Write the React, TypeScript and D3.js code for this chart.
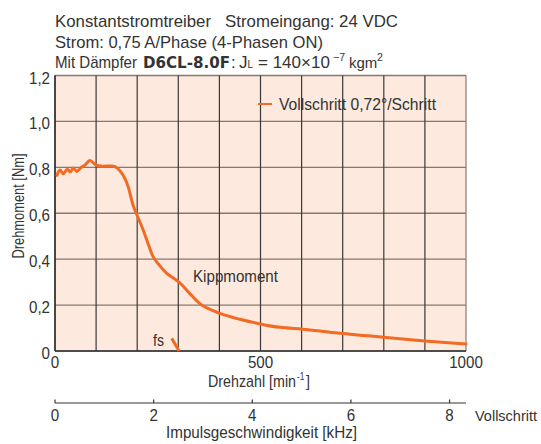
import React from "react";
import * as d3 from "d3";

const rpm = [5, 12, 20, 30, 37, 45, 53, 62, 73, 85, 100, 117, 134, 146, 158, 170, 178, 190, 200, 215, 227, 239, 251, 272, 302, 328, 357, 401, 450, 499, 547, 602, 645, 693, 750, 800, 900, 1000];
const torque = [0.765, 0.788, 0.772, 0.792, 0.78, 0.797, 0.782, 0.797, 0.81, 0.83, 0.81, 0.805, 0.806, 0.803, 0.785, 0.752, 0.716, 0.635, 0.59, 0.525, 0.465, 0.41, 0.38, 0.338, 0.3, 0.25, 0.2, 0.164, 0.138, 0.118, 0.103, 0.095, 0.087, 0.077, 0.068, 0.06, 0.044, 0.03];
const fsRpm = [284, 302];
const fsTorque = [0.055, 0];

const yTicks = [0, 0.2, 0.4, 0.6, 0.8, 1.0, 1.2];
const yTickLabels = ["0", "0,2", "0,4", "0,6", "0,8", "1,0", "1,2"];
const xGrid = [0, 100, 200, 300, 400, 500, 600, 700, 800, 900, 1000];
const xTickLabels = [0, 500, 1000];
const kHzTicks = [0, 2, 4, 6, 8];

const headerLine1 = "Konstantstromtreiber   Stromeingang: 24 VDC";
const headerLine2 = "Strom: 0,75 A/Phase (4-Phasen ON)";
const legendLabel = "Vollschritt 0,72°/Schritt";

const FONT = "'Liberation Sans', Arial, sans-serif";
const ORANGE = "#f26a24";
const TEXT = "#333";
const FS = 17;
const SX = 0.89;

type TProps = {
  x: number;
  y: number;
  w?: number;
  anchor?: "start" | "middle" | "end";
  size?: number;
  children: React.ReactNode;
  bold?: boolean;
  family?: string;
};

function T({ x, y, w, anchor = "start", size = FS, children, bold, family }: TProps) {
  if (w !== undefined) {
    return (
      <text
        x={x}
        y={y}
        textAnchor={anchor}
        fontSize={size}
        fill={TEXT}
        fontWeight={bold ? "bold" : undefined}
        fontFamily={family}
        textLength={w}
        lengthAdjust="spacingAndGlyphs"
        style={{ whiteSpace: "pre" }}
      >
        {children}
      </text>
    );
  }
  return (
    <text
      transform={`translate(${x},${y}) scale(${SX},1)`}
      textAnchor={anchor}
      fontSize={size}
      fill={TEXT}
      fontWeight={bold ? "bold" : undefined}
      fontFamily={family}
      style={{ whiteSpace: "pre" }}
    >
      {children}
    </text>
  );
}

export default function App() {
  const x = d3.scaleLinear().domain([0, 1000]).range([55, 466]);
  const y = d3.scaleLinear().domain([0, 1.2]).range([351, 75.5]);
  const xk = d3.scaleLinear().domain([0, 25 / 3]).range([55, 466]);

  const pts: [number, number][] = rpm.map((r, i) => [r, torque[i]]);
  const line = d3
    .line<[number, number]>()
    .x((d) => x(d[0]))
    .y((d) => y(d[1]))
    .curve(d3.curveCatmullRom.alpha(0.5));
  const fsPts: [number, number][] = fsRpm.map((r, i) => [r, fsTorque[i]]);
  const fsLine = d3
    .line<[number, number]>()
    .x((d) => x(d[0]))
    .y((d) => y(d[1]));

  const axisY = 403;
  const dz = 0.84;
  const d2 = (px: number) => (px - 208) / dz;

  return (
    <svg width={541} height={444} style={{ position: "absolute", left: 0, top: 0 }} fontFamily={FONT}>
      <T x={55} y={27} w={343}>{headerLine1}</T>
      <T x={55} y={48} w={268}>{headerLine2}</T>
      <T x={55} y={68} w={82}>Mit Dämpfer</T>
      <T x={143} y={68} w={87} bold family="'DejaVu Sans', sans-serif" size={15.5}>D6CL-8.0F</T>
      <text x={231} y={68} fontSize={FS} fill={TEXT} style={{ whiteSpace: "pre" }}>
        <tspan x={231}>:</tspan>
        <tspan x={239}>J</tspan>
        <tspan x={247.5} fontSize={10}>L</tspan>
        <tspan x={258}>= 140×10</tspan>
        <tspan x={333} dy={-7} fontSize={10.5}>−7</tspan>
        <tspan x={349} dy={7} fontSize={15}>kgm</tspan>
        <tspan x={377} dy={-7} fontSize={10.5}>2</tspan>
      </text>

      <rect x={x(0)} y={y(1.2)} width={x(1000) - x(0)} height={y(0) - y(1.2)} fill="#fde9dd" />
      {yTicks.map((t) => (
        <line key={"h" + t} x1={x(0)} x2={x(1000)} y1={y(t)} y2={y(t)} stroke="#857a72" strokeWidth={1.3} />
      ))}
      {xGrid.map((t) => (
        <line key={"v" + t} x1={x(t)} x2={x(t)} y1={y(1.2)} y2={y(0)} stroke={t === 1000 ? "#857a72" : "#3a3a3a"} strokeWidth={1.2} />
      ))}
      <line x1={x(0)} x2={x(0)} y1={y(1.2)} y2={y(0)} stroke="#333" strokeWidth={1.5} />
      <line x1={x(0)} x2={x(1000)} y1={y(0)} y2={y(0)} stroke="#333" strokeWidth={1.5} />

      {yTicks.map((t, i) => (
        <T key={"yl" + t} x={50} y={y(t) + 8} anchor="end">{yTickLabels[i]}</T>
      ))}
      {xTickLabels.map((t) => (
        <T key={"xl" + t} x={x(t)} y={368} anchor="middle">{String(t)}</T>
      ))}
      <text transform={`translate(208,387) scale(${dz},1)`} fontSize={FS} fill={TEXT}>
        <tspan x={0}>Drehzahl [min</tspan>
        <tspan x={d2(297)} dy={-7} fontSize={10}>-1</tspan>
        <tspan x={d2(306)} dy={7}>]</tspan>
      </text>
      <text transform={`translate(24,206) rotate(-90)`} textAnchor="middle" fontSize={FS} fill={TEXT} textLength={105} lengthAdjust="spacingAndGlyphs">Drehmoment [Nm]</text>

      <path d={line(pts) || ""} fill="none" stroke={ORANGE} strokeWidth={3} strokeLinejoin="round" strokeLinecap="round" />
      <path d={fsLine(fsPts) || ""} fill="none" stroke={ORANGE} strokeWidth={3} />

      <line x1={258} x2={272} y1={104} y2={104} stroke={ORANGE} strokeWidth={2} />
      <T x={279} y={110} w={157}>{legendLabel}</T>
      <T x={193} y={282} w={85}>Kippmoment</T>
      <T x={153} y={346} w={11}>fs</T>

      <line x1={xk(0)} x2={xk(25 / 3)} y1={axisY} y2={axisY} stroke="#333" strokeWidth={1.2} />
      {kHzTicks.map((t) => (
        <g key={"k" + t}>
          <line x1={xk(t)} x2={xk(t)} y1={axisY} y2={axisY - 3.5} stroke="#333" strokeWidth={1.2} />
          <T x={xk(t)} y={421} anchor="middle">{String(t)}</T>
        </g>
      ))}
      <T x={475} y={421} w={62} size={15}>Vollschritt</T>
      <T x={166} y={438} w={191}>Impulsgeschwindigkeit [kHz]</T>
    </svg>
  );
}
